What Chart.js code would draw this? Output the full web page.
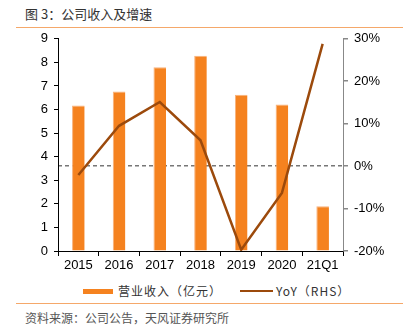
<!DOCTYPE html>
<html>
<head>
<meta charset="utf-8">
<script src="https://cdn.jsdelivr.net/npm/chart.js@4.4.0/dist/chart.umd.min.js"></script>
<style>
    body { margin: 0; background: #fff; font-family: "Liberation Sans", Arial, sans-serif; }
    #page { position: relative; width: 409px; height: 335px; overflow: hidden; }
    #title { position: absolute; left: 25px; top: 4px; font: 13px "Noto Sans CJK SC"; color: #333; }
    .rule { position: absolute; left: 16px; width: 387px; height: 0; border-top: 1.5px solid #F5A86A; }
    #chartBox { position: absolute; left: 0; top: 25px; width: 409px; height: 256px; }
    #legend { position: absolute; top: 282px; left: 0; width: 409px; height: 18px; font: 12px "Noto Sans CJK SC"; color: #333; }
    .lg { position: absolute; top: 0; line-height: 18px; letter-spacing: 1px; }
    .sw { position: absolute; }
    #source { position: absolute; left: 25px; top: 309px; font: 12px "Noto Sans CJK SC"; color: #555; }
</style>
</head>
<body>
<div id="page">
    <div id="title">图 3：公司收入及增速</div>
    <div class="rule" style="top:27px"></div>
    <div id="chartBox"><canvas id="chart" width="409" height="256"></canvas></div>
    <div id="legend">
        <div class="sw" style="left:83px;top:7px;width:30px;height:5px;background:#F5821F"></div>
        <div class="lg" style="left:118px">营业收入（亿元）</div>
        <div class="sw" style="left:240px;top:8px;width:33px;height:2px;background:#9C4A0C"></div>
        <div class="lg" style="left:276px">YoY（RHS）</div>
    </div>
    <div class="rule" style="top:303px"></div>
    <div id="source">资料来源：公司公告，天风证券研究所</div>
</div>
<script>
// Chart data
const years = ['2015', '2016', '2017', '2018', '2019', '2020', '21Q1'];
const revenue = [6.17, 6.76, 7.79, 8.28, 6.63, 6.21, 1.9];
const yoy = [-2.1, 9.5, 15.1, 6.1, -19.7, -6.3, 28.8];

const tickFont = { family: 'Liberation Sans', size: 13 };

new Chart(document.getElementById('chart'), {
    data: {
        labels: years,
        datasets: [{
            type: 'line',
            label: 'YoY（RHS）',
            data: yoy,
            yAxisID: 'y1',
            borderColor: '#9C4A0C',
            borderWidth: 2.5,
            pointRadius: 0,
            tension: 0,
            order: 0
        }, {
            type: 'bar',
            label: '营业收入（亿元）',
            data: revenue,
            yAxisID: 'y',
            backgroundColor: '#F5821F',
            borderColor: '#F8B27C',
            borderWidth: { left: 1, top: 1, right: 0, bottom: 0 },
            borderSkipped: false,
            barPercentage: 0.31,
            categoryPercentage: 1,
            order: 1
        }]
    },
    options: {
        responsive: false,
        animation: false,
        maintainAspectRatio: false,
        layout: { padding: { top: 3, left: 0, right: 0, bottom: 0 } },
        plugins: { legend: { display: false }, tooltip: { enabled: false } },
        scales: {
            x: {
                grid: { offset: true, drawOnChartArea: false, tickLength: 5, color: '#000' },
                border: { color: '#000', width: 1 },
                ticks: { color: '#000', font: tickFont, padding: 2, maxRotation: 0, autoSkip: false },
                afterFit: s => { s.height = 30; }
            },
            y: {
                position: 'left',
                min: 0,
                max: 9,
                grid: { drawOnChartArea: false, tickLength: 4, color: '#000' },
                border: { color: '#000', width: 1 },
                ticks: { stepSize: 1, color: '#000', font: tickFont, padding: 6 },
                afterFit: s => { s.width = 58; }
            },
            y1: {
                position: 'right',
                min: -20,
                max: 30,
                grid: {
                    drawOnChartArea: true,
                    tickLength: 5,
                    tickColor: '#888',
                    lineWidth: 1.5,
                    color: ctx => ctx.tick && ctx.tick.value === 0 ? '#777' : 'rgba(0,0,0,0)'
                },
                border: { color: '#888', width: 1, dash: [4, 3] },
                ticks: { stepSize: 10, color: '#000', font: tickFont, padding: 6, callback: v => v + '%' },
                afterFit: s => { s.width = 66; }
            }
        }
    }
});
</script>
</body>
</html>
